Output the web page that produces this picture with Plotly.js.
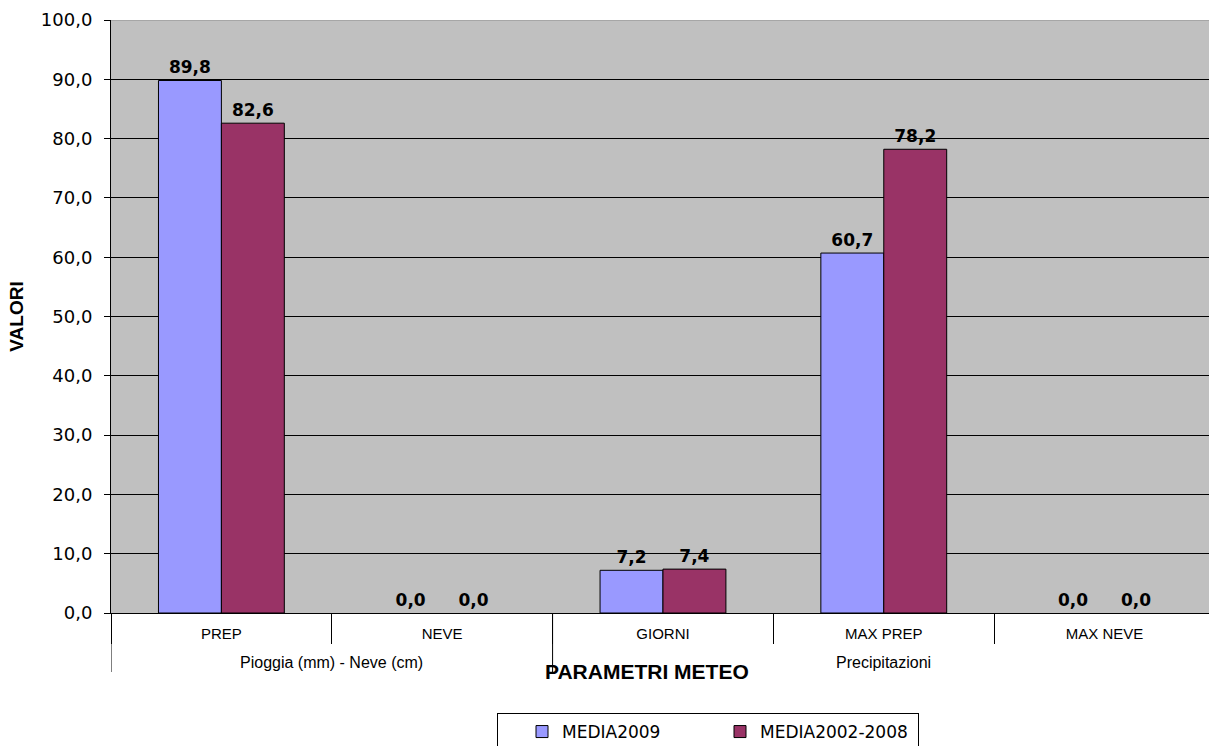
<!DOCTYPE html>
<html>
<head>
<meta charset="utf-8">
<script src="https://cdn.plot.ly/plotly-3.0.1.min.js"></script>
<style>
  html, body { margin: 0; padding: 0; background: #ffffff; overflow: hidden; }
  #chart { width: 1209px; height: 746px; }
</style>
</head>
<body>
<div id="chart"></div>
<script>
// Weather parameters: 2009 average vs 2002-2008 average
const categories = ["PREP", "NEVE", "GIORNI", "MAX PREP", "MAX NEVE"];
const groups = [
  "Pioggia (mm) - Neve (cm)",
  "Pioggia (mm) - Neve (cm)",
  "Precipitazioni",
  "Precipitazioni",
  "Precipitazioni"
];
const media2009 = [89.8, 0.0, 7.2, 60.7, 0.0];
const media2002_2008 = [82.6, 0.0, 7.4, 78.2, 0.0];
const seriesNames = ["MEDIA2009", "MEDIA2002-2008"];
const seriesColors = ["#9999ff", "#993366"];
const yTicks = [0, 10, 20, 30, 40, 50, 60, 70, 80, 90, 100];
const axisTitleX = "PARAMETRI METEO";
const axisTitleY = "VALORI";

const SANS = "Liberation Sans, Arial, sans-serif";
const WIDE = "DejaVu Sans, Verdana, sans-serif";
const INK = "#000000";

// plot area geometry in pixels
const W = 1209, H = 746;
const M = { l: 111, r: 0, t: 20, b: 133 };
const plotW = W - M.l - M.r;
const plotH = H - M.t - M.b;
const py = (d) => d / plotH;           // vertical pixel distance -> paper fraction
const pxX = (x) => (x - M.l) / plotW;  // page x -> paper fraction

function barTrace(name, values, color) {
  return {
    type: "bar",
    name: name,
    x: categories,
    y: values,
    marker: {
      color: color,
      // empty bars get no outline
      line: { color: "#000000", width: values.map(v => (v > 0 ? 1 : 0)) }
    },
    texttemplate: "%{y:.1f}",
    textposition: "outside",
    cliponaxis: false,
    textfont: { family: WIDE, size: 17, color: INK, weight: "bold" },
    hoverinfo: "skip"
  };
}

const data = [
  barTrace(seriesNames[0], media2009, seriesColors[0]),
  barTrace(seriesNames[1], media2002_2008, seriesColors[1])
];

// outer group spans (labels and divider lines under the category axis)
const spans = [];
groups.forEach((g, i) => {
  const last = spans[spans.length - 1];
  if (last && last.name === g) last.end = i;
  else spans.push({ name: g, start: i, end: i });
});

const annotations = spans.map(s => ({
  text: s.name,
  xref: "x", yref: "paper",
  x: (s.start + s.end) / 2,
  y: -py(49),
  xanchor: "center", yanchor: "middle",
  showarrow: false,
  font: { family: SANS, size: 16, color: INK }
}));
annotations.push({
  text: axisTitleX,
  xref: "paper", yref: "paper",
  x: pxX(647), y: -py(58),
  xanchor: "center", yanchor: "middle",
  showarrow: false,
  font: { family: SANS, size: 21, color: INK, weight: "bold" }
});

const boundaries = [spans[0].start - 0.5].concat(spans.map(s => s.end + 0.5));
const shapes = boundaries.map(b => ({
  type: "line", xref: "x", yref: "paper",
  x0: b, x1: b, y0: 0, y1: -py(59),
  line: { color: "#000000", width: 1 }
}));
// light top edge of the plot frame
shapes.push({
  type: "line", xref: "paper", yref: "y",
  x0: 0, x1: 1, y0: yTicks[yTicks.length - 1], y1: yTicks[yTicks.length - 1],
  line: { color: "#a6a6a6", width: 2 }
});

const layout = {
  width: W,
  height: H,
  paper_bgcolor: "#ffffff",
  plot_bgcolor: "#c0c0c0",
  separators: ",.",
  barmode: "group",
  bargap: 0.43,
  bargroupgap: 0,
  margin: { l: M.l, r: M.r, t: M.t, b: M.b, autoexpand: false },
  font: { family: SANS, color: INK },
  showlegend: true,
  legend: {
    orientation: "h",
    x: pxX(497),
    xanchor: "left",
    y: -py(100),
    yanchor: "top",
    bgcolor: "#ffffff",
    bordercolor: "#000000",
    borderwidth: 1,
    entrywidth: 153,
    font: { family: WIDE, size: 17, color: INK },
    title: { text: "\u2003", side: "left", font: { family: SANS, size: 14 } },
    traceorder: "normal"
  },
  xaxis: {
    type: "category",
    range: [-0.5, 4.473],
    showline: true,
    linecolor: "#000000",
    linewidth: 1,
    ticks: "outside",
    tickson: "boundaries",
    ticklen: 30,
    tickcolor: "#000000",
    ticklabelstandoff: 7,
    tickfont: { family: SANS, size: 15, color: INK },
    showgrid: false,
    zeroline: false,
    fixedrange: true
  },
  yaxis: {
    range: [0, 100],
    tickvals: yTicks,
    tickformat: ".1f",
    ticks: "outside",
    ticklen: 6,
    tickcolor: "#000000",
    ticklabelstandoff: 8,
    showline: true,
    linecolor: "#000000",
    linewidth: 1,
    showgrid: true,
    gridcolor: "#000000",
    gridwidth: 1,
    zeroline: false,
    tickfont: { family: WIDE, size: 18, color: INK },
    title: {
      text: axisTitleY,
      font: { family: SANS, size: 19, color: INK, weight: "bold" },
      standoff: 12
    },
    fixedrange: true
  },
  annotations: annotations,
  shapes: shapes
};

Plotly.newPlot("chart", data, layout, { displayModeBar: false, staticPlot: true });
</script>
</body>
</html>
